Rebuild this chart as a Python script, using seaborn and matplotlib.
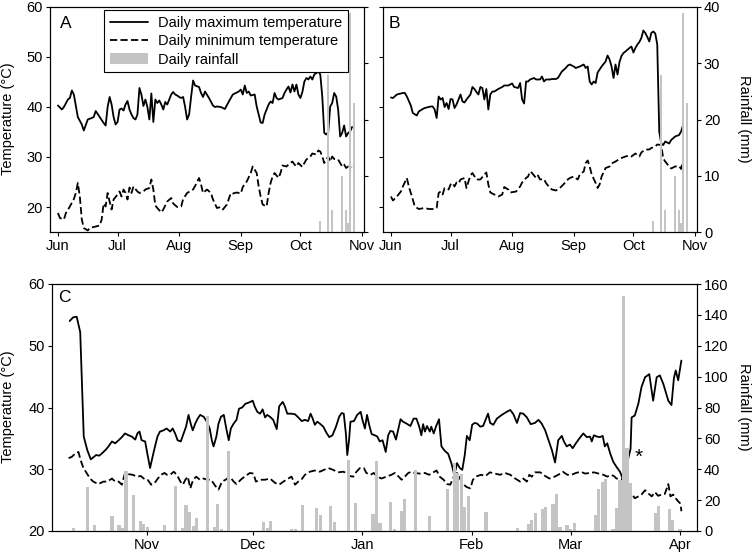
import pandas as pd
import matplotlib
matplotlib.use("Agg")
import matplotlib.pyplot as plt
import matplotlib.dates as mdates
from matplotlib.lines import Line2D
from matplotlib.patches import Patch
import seaborn as sns

# ── Data ──────────────────────────────────────────────────────────────────────
# Panels A and B: (days after 1 June, value)
a_tmax = [(0, 40.3), (2, 39.5), (3, 40.0), (5, 41.5), (6, 41.8), (7, 43.3), (8, 42.5), (10, 38.0),
          (12, 36.5), (13, 35.3), (15, 37.5), (17, 37.8), (18, 38.0), (19, 39.2), (21, 38.0),
          (23, 36.8), (24, 36.3), (25, 40.0), (26, 42.0), (27, 40.5), (28, 38.0), (29, 36.5),
          (30, 37.0), (31, 39.5), (32, 39.7), (33, 39.3), (34, 40.5), (35, 41.2), (36, 39.5),
          (37, 38.5), (38, 37.8), (39, 37.5), (40, 38.5), (41, 43.8), (42, 42.5), (43, 40.2),
          (44, 41.5), (45, 40.0), (46, 37.5), (47, 42.7), (48, 37.0), (49, 41.5), (50, 40.8),
          (51, 41.3), (52, 40.5), (53, 39.5), (54, 41.0), (55, 40.5), (56, 41.5), (57, 42.5),
          (58, 43.0), (59, 42.5), (60, 42.3), (61, 42.0), (62, 41.8), (63, 42.0), (64, 40.0),
          (65, 37.5), (66, 38.5), (67, 42.0), (68, 45.3), (69, 44.3), (71, 44.0), (72, 42.8),
          (73, 42.0), (74, 43.1), (76, 41.8), (78, 40.3), (79, 40.0), (80, 40.1), (82, 40.0),
          (84, 39.6), (86, 41.1), (88, 42.5), (91, 43.1), (92, 43.5), (93, 42.5), (94, 44.3),
          (95, 42.8), (96, 43.1), (97, 42.3), (99, 42.5), (100, 40.1), (102, 36.9), (103, 36.8),
          (104, 38.5), (106, 40.5), (107, 41.1), (108, 40.8), (109, 42.8), (110, 41.8),
          (111, 41.5), (113, 41.8), (114, 42.8), (115, 43.5), (116, 44.1), (117, 42.9),
          (118, 44.5), (119, 43.1), (120, 44.5), (121, 42.5), (122, 41.8), (123, 43.0),
          (124, 45.1), (125, 45.8), (126, 45.5), (127, 46.1), (128, 45.5), (129, 46.5),
          (130, 46.8), (131, 47.1), (132, 46.5), (133, 42.1), (134, 34.8), (135, 34.5),
          (136, 35.0), (137, 40.1), (138, 40.8), (139, 42.8), (140, 42.1), (141, 39.5),
          (142, 34.1), (143, 34.8), (144, 36.3), (145, 34.1), (146, 34.8), (147, 35.1), (148, 36.0)]

a_tmin = [(0, 18.8), (1, 17.8), (3, 17.5), (4, 18.8), (6, 20.1), (8, 21.6), (9, 22.8), (10, 24.8),
          (11, 22.1), (12, 17.5), (13, 15.8), (15, 15.3), (16, 15.8), (18, 16.0), (21, 16.3),
          (22, 17.5), (23, 20.7), (24, 20.1), (25, 22.8), (26, 21.1), (27, 19.5), (28, 21.5),
          (30, 22.5), (31, 23.1), (32, 22.1), (33, 23.5), (34, 22.8), (35, 21.5), (36, 23.9),
          (37, 22.8), (38, 24.1), (40, 23.1), (41, 22.8), (43, 23.1), (44, 23.5), (46, 23.8),
          (47, 25.5), (48, 23.5), (49, 20.3), (50, 19.8), (52, 18.9), (53, 19.5), (55, 21.1),
          (57, 21.8), (58, 20.7), (60, 20.0), (62, 20.1), (63, 21.6), (65, 22.8), (67, 23.3),
          (68, 23.5), (69, 24.2), (70, 25.0), (71, 25.8), (72, 24.5), (73, 22.8), (75, 23.5),
          (77, 22.8), (78, 21.5), (80, 19.8), (82, 20.0), (83, 19.5), (85, 20.5), (87, 22.8),
          (88, 22.7), (90, 22.9), (92, 22.7), (93, 24.0), (95, 25.1), (97, 26.8), (98, 28.1),
          (100, 26.8), (101, 24.1), (102, 22.1), (103, 20.5), (105, 20.1), (106, 22.8),
          (107, 24.8), (108, 26.1), (109, 26.8), (111, 25.8), (112, 26.8), (113, 28.3),
          (115, 28.1), (116, 28.5), (118, 29.1), (119, 28.5), (120, 28.1), (121, 28.8),
          (123, 28.0), (124, 28.8), (125, 29.5), (127, 30.1), (128, 30.7), (130, 30.5),
          (131, 31.3), (132, 31.1), (133, 30.1), (134, 28.8), (136, 30.1), (137, 29.1),
          (138, 30.1), (139, 29.6), (141, 29.5), (142, 28.8), (143, 28.1), (144, 28.5),
          (145, 27.8), (146, 28.1), (148, 28.0)]

b_tmax = [(0, 41.9), (1, 41.8), (3, 42.5), (6, 42.8), (7, 42.8), (8, 42.1), (10, 40.3), (11, 38.8),
          (13, 38.3), (14, 39.1), (16, 39.6), (17, 39.8), (19, 40.0), (20, 40.1), (21, 40.1),
          (22, 39.5), (23, 37.8), (24, 42.1), (25, 41.5), (26, 41.8), (27, 40.0), (28, 40.8),
          (29, 39.6), (30, 41.6), (31, 41.5), (32, 39.8), (33, 40.5), (34, 41.5), (35, 42.5),
          (36, 41.1), (37, 40.9), (38, 41.5), (39, 42.0), (40, 42.5), (41, 44.0), (42, 43.6),
          (43, 43.0), (44, 42.5), (45, 44.0), (46, 43.8), (47, 41.5), (48, 43.6), (49, 39.5),
          (50, 42.5), (51, 43.1), (52, 43.1), (54, 43.6), (56, 44.0), (57, 44.3), (59, 44.3),
          (61, 44.7), (62, 44.0), (64, 43.8), (65, 44.8), (66, 41.5), (67, 40.7), (68, 45.1),
          (69, 45.1), (70, 45.5), (72, 45.8), (73, 45.5), (75, 45.5), (76, 46.1), (77, 45.1),
          (78, 45.5), (80, 45.5), (81, 45.6), (83, 45.6), (84, 45.8), (86, 47.1), (88, 47.8),
          (89, 48.3), (90, 48.5), (92, 48.1), (93, 47.8), (95, 48.1), (97, 48.5), (98, 47.8),
          (99, 48.1), (100, 45.1), (101, 44.5), (102, 45.1), (103, 44.8), (104, 46.9),
          (106, 48.1), (108, 49.1), (109, 50.3), (110, 49.5), (111, 48.1), (112, 45.8),
          (113, 48.5), (114, 46.5), (115, 49.0), (116, 50.2), (117, 50.8), (118, 51.1),
          (120, 51.8), (121, 52.1), (122, 50.9), (123, 51.8), (124, 52.5), (125, 53.0),
          (126, 53.8), (127, 55.3), (128, 54.8), (129, 54.0), (130, 53.1), (131, 54.8),
          (132, 55.1), (133, 54.7), (134, 52.5), (135, 35.1), (136, 32.7), (137, 32.4),
          (138, 33.1), (140, 32.7), (141, 33.4), (143, 34.1), (145, 34.4), (146, 35.1), (147, 36.4)]

b_tmin = [(0, 22.1), (1, 21.3), (3, 22.1), (5, 23.1), (6, 24.1), (8, 25.8), (9, 24.1), (11, 21.5),
          (12, 20.1), (14, 19.6), (17, 19.8), (19, 19.6), (22, 19.6), (23, 19.8), (24, 22.8),
          (25, 23.1), (26, 22.5), (27, 23.8), (29, 23.5), (30, 24.5), (31, 24.8), (32, 24.1),
          (33, 24.9), (34, 24.7), (35, 25.5), (37, 25.8), (38, 23.8), (39, 25.1), (40, 26.3),
          (41, 26.8), (43, 25.5), (45, 25.5), (47, 26.5), (48, 26.9), (49, 24.5), (50, 22.9),
          (52, 22.5), (54, 22.1), (56, 22.5), (57, 24.0), (59, 23.5), (60, 22.9), (63, 23.1),
          (65, 24.1), (66, 24.9), (68, 25.8), (69, 26.1), (70, 27.1), (71, 26.8), (73, 25.8),
          (74, 26.3), (75, 25.5), (77, 25.6), (78, 24.8), (80, 23.8), (81, 23.5), (83, 23.3),
          (85, 23.8), (87, 24.6), (89, 25.5), (90, 25.8), (92, 26.1), (94, 25.5), (95, 26.5),
          (97, 27.1), (98, 28.8), (99, 29.3), (100, 28.1), (101, 26.5), (103, 24.8), (104, 23.8),
          (105, 24.5), (106, 26.1), (108, 27.8), (110, 28.1), (111, 28.7), (113, 29.1),
          (115, 29.6), (116, 29.8), (118, 30.1), (120, 30.3), (121, 30.1), (123, 30.7),
          (125, 30.1), (126, 30.9), (128, 31.5), (130, 31.5), (131, 31.8), (133, 32.1),
          (134, 32.5), (136, 32.4), (137, 29.7), (138, 29.1), (140, 28.1), (141, 27.7),
          (143, 28.1), (145, 28.2), (146, 27.6), (147, 29.3)]

ab_rain = [(132, 2.0), (136, 28.0), (138, 3.9), (143, 10.0), (145, 3.9), (146, 1.6),
           (147, 39.0), (149, 23.0)]

# Panel C: (days after 1 October, value)
c_tmax = [(9, 54.0), (10, 54.6), (11, 54.7), (12, 52.2), (13, 35.3), (14, 33.1), (15, 31.6),
          (16.5, 32.3), (17.4, 32.2), (18.4, 32.7), (19.3, 33.2), (20, 33.7), (21, 34.5),
          (21.9, 34.2), (22.9, 34.7), (23.8, 35.2), (24.7, 35.8), (25.7, 35.5), (26.6, 35.3),
          (27.6, 34.8), (28.2, 35.8), (28.8, 36.1), (29.4, 34.7), (30.4, 34.5), (31, 32.6),
          (31.8, 30.2), (32.5, 32.0), (33.2, 33.7), (33.9, 35.3), (34.6, 36.1), (35.6, 36.3),
          (36.5, 36.6), (37.5, 36.1), (38.2, 36.6), (38.9, 35.8), (39.6, 34.7), (40.5, 34.5),
          (41.5, 36.1), (42, 36.9), (42.7, 38.8), (43.4, 37.2), (43.9, 36.3), (44.6, 37.4),
          (45.3, 38.2), (46, 38.8), (47, 38.5), (47.9, 37.7), (48.7, 36.6), (49.3, 34.7),
          (49.8, 33.7), (50.6, 35.3), (51.2, 37.4), (51.9, 38.5), (52.7, 38.8), (53.4, 36.6),
          (54.1, 34.7), (54.7, 36.6), (55.5, 37.4), (56.3, 38.0), (57, 39.8), (57.9, 40.0),
          (58.8, 40.6), (59.8, 40.8), (60.9, 41.1), (61.5, 40.1), (62.2, 39.3), (63, 39.0),
          (63.7, 39.7), (64.4, 38.4), (65, 38.8), (65.8, 38.5), (66.7, 38.0), (67.7, 36.5),
          (68.4, 40.2), (69.4, 40.9), (70, 40.2), (70.7, 39.0), (71.9, 39.0), (72.9, 38.9),
          (73.8, 38.4), (74.8, 37.8), (75.7, 38.0), (76.6, 37.8), (77.3, 39.0), (77.9, 38.2),
          (78.5, 37.2), (79.2, 37.7), (79.9, 37.4), (80.9, 36.9), (81.8, 35.9), (82.6, 35.2),
          (83.5, 35.5), (84.5, 36.9), (85.4, 38.5), (86.1, 39.1), (86.7, 39.0), (87.3, 35.8),
          (87.7, 32.3), (88.2, 34.7), (88.6, 37.7), (89.6, 37.8), (90.5, 38.8), (91.5, 39.3),
          (92, 38.0), (92.7, 36.6), (93.3, 38.8), (93.9, 37.2), (94.6, 35.7), (95.5, 35.5),
          (96.2, 35.3), (96.9, 34.5), (97.7, 34.7), (98.6, 32.8), (99.3, 35.5), (99.9, 36.2),
          (100.7, 36.1), (101.5, 34.8), (102.1, 36.3), (102.8, 38.1), (103.5, 37.7),
          (104.5, 37.4), (105.6, 37.0), (106.5, 38.2), (107.3, 38.2), (108.1, 36.9),
          (108.7, 35.5), (109.2, 37.3), (109.7, 36.1), (110.3, 37.0), (111.1, 36.1),
          (111.5, 36.9), (112.2, 35.8), (112.9, 37.0), (113.7, 38.1), (114.4, 33.7),
          (115.3, 33.0), (116.3, 32.5), (117.2, 31.0), (117.9, 29.4), (118.4, 29.9),
          (118.8, 31.0), (119.6, 30.2), (120.3, 29.9), (121, 32.3), (121.6, 35.4),
          (122.4, 34.7), (123.1, 37.2), (123.8, 37.5), (124.5, 37.4), (125.4, 36.9),
          (126.2, 37.0), (126.9, 38.0), (127.6, 39.0), (128.2, 37.5), (129.1, 37.2),
          (130.1, 38.2), (131.5, 38.8), (132.9, 39.3), (133.9, 39.6), (134.8, 38.9),
          (135.8, 37.5), (136.7, 39.1), (137.6, 39.0), (138.6, 38.4), (139.7, 37.3),
          (140.9, 37.5), (141.9, 38.0), (142.8, 37.4), (143.8, 36.3), (144.7, 34.8),
          (145.7, 33.1), (146.6, 31.1), (147.5, 34.7), (148.5, 35.4), (149.1, 34.5),
          (149.9, 33.7), (150.8, 34.0), (151.6, 33.4), (152.5, 34.2), (153.5, 35.0),
          (154.6, 35.8), (155.6, 35.2), (156.5, 35.3), (157, 34.5), (157.6, 35.5),
          (158.4, 35.3), (159.3, 35.2), (160.1, 35.4), (160.7, 33.7), (161.4, 34.2),
          (162.2, 32.6), (163.1, 31.2), (164, 30.4), (165, 29.6), (165.9, 28.3), (168, 33.3),
          (168.3, 38.4), (169.2, 38.7), (170.2, 40.6), (171.1, 43.3), (172.1, 44.9),
          (173.3, 45.4), (174.4, 41.1), (175.4, 44.9), (176.3, 45.2), (177.3, 43.8),
          (178.7, 41.1), (179.6, 40.4), (180.3, 44.8), (180.8, 46.0), (181.5, 44.4), (182.4, 47.6)]

c_tmin = [(8.7, 31.8), (9.6, 32.0), (10.5, 32.5), (11.5, 32.8), (12.1, 31.5), (12.9, 30.2),
          (13.8, 29.4), (14.8, 28.5), (15.7, 28.0), (17.1, 27.6), (18.6, 28.0), (19.7, 28.0),
          (21, 28.5), (21.9, 28.0), (22.9, 28.0), (23.8, 27.5), (24.7, 29.4), (25.7, 29.2),
          (26.9, 29.1), (28.1, 28.8), (29.2, 28.9), (30.2, 28.4), (31.1, 28.3), (32.1, 27.5),
          (33, 27.7), (34, 28.5), (34.9, 29.1), (35.9, 29.4), (36.6, 29.1), (37.5, 29.1),
          (38.5, 29.6), (39.4, 29.1), (40.4, 28.0), (41.1, 27.5), (41.8, 28.3), (42.5, 28.8),
          (43.2, 26.9), (44, 28.3), (44.9, 28.8), (45.9, 28.3), (47, 28.5), (47.9, 28.3),
          (49.1, 28.3), (50.3, 27.3), (51.2, 26.7), (52.2, 28.0), (53.2, 28.3), (54.4, 28.8),
          (55.5, 28.0), (56.3, 27.6), (57.5, 28.3), (58.8, 28.9), (60.1, 29.4), (61.1, 29.3),
          (61.8, 28.0), (63, 28.3), (64.4, 28.3), (65.8, 28.5), (67.2, 27.8), (68.4, 27.5),
          (69.6, 28.0), (71, 28.5), (71.9, 28.8), (72.9, 27.5), (73.8, 28.0), (74.8, 28.4),
          (75.7, 29.1), (77.1, 29.6), (78.5, 29.8), (79.9, 29.6), (81.1, 29.9), (82.3, 30.2),
          (83.7, 29.9), (85.1, 29.5), (86.5, 29.6), (87.5, 29.4), (88.4, 28.9), (89.4, 28.8),
          (90.3, 29.6), (91.3, 30.2), (92.4, 30.2), (93.1, 29.4), (94.3, 29.1), (95.2, 29.4),
          (96.2, 28.8), (97.4, 28.5), (98.8, 28.8), (100.2, 29.1), (101.2, 29.4), (102.1, 28.9),
          (103.1, 28.3), (104, 28.8), (105, 29.4), (105.9, 29.6), (106.8, 29.4), (108.2, 29.3),
          (109.7, 29.4), (110.9, 29.1), (111.8, 29.4), (113, 29.8), (113.9, 28.8), (115, 28.3),
          (116, 27.6), (116.9, 27.5), (117.9, 28.8), (118.8, 29.4), (119.8, 28.3), (120.7, 27.5),
          (121.6, 27.1), (122.6, 26.9), (123.3, 28.3), (124.5, 28.9), (125.7, 29.1),
          (126.9, 28.9), (128.1, 29.5), (129.6, 29.3), (131, 29.1), (132.4, 29.4), (133.9, 29.1),
          (135.3, 28.5), (136.7, 28.0), (137.6, 28.5), (138.6, 28.0), (139.3, 29.1), (140, 28.8),
          (140.9, 29.5), (142.4, 29.5), (143.8, 28.9), (145, 28.5), (146.1, 28.7), (147.5, 29.1),
          (148.8, 29.6), (150.1, 29.1), (151.3, 29.1), (152.5, 29.4), (153.9, 29.6),
          (155.1, 29.3), (156.5, 29.4), (157.6, 29.5), (158.9, 29.3), (160.3, 29.1),
          (161.4, 28.8), (162.4, 29.1), (163.3, 28.9), (164, 28.5), (165.5, 28.4), (169.2, 25.3),
          (170.2, 25.6), (171.1, 25.9), (172.1, 26.6), (173, 26.1), (174, 25.6), (174.9, 26.3),
          (175.8, 25.7), (176.8, 25.9), (177.7, 26.0), (178.7, 27.6), (179.3, 25.6),
          (180.1, 25.9), (180.8, 25.3), (181.5, 24.8), (182.2, 24.4), (182.4, 23.2)]

c_rain = [(10, 1.9), (14, 28.4), (16, 3.9), (21, 9.9), (23, 3.9), (24, 1.9), (25, 38.9), (27, 23.0),
          (29, 6.6), (30, 4.5), (31, 2.6), (36, 3.9), (39, 29.0), (41, 2.2), (42, 16.6),
          (43, 12.5), (44, 3.0), (45, 8.6), (48, 74.8), (50, 2.6), (51, 17.2), (52, 1.3),
          (54, 51.8), (64, 6.0), (65, 1.7), (66, 6.5), (72, 1.1), (73, 1.1), (75, 16.8),
          (79, 14.6), (80, 10.3), (83, 16.3), (84, 6.0), (88, 45.8), (90, 18.3), (95, 11.0),
          (96, 45.4), (97, 4.9), (100, 18.9), (101, 1.1), (103, 13.1), (104, 21.0), (107, 39.8),
          (111, 9.7), (116, 26.9), (118, 44.3), (119, 37.6), (120, 36.8), (121, 15.7),
          (122, 22.6), (127, 12.5), (136, 1.7), (139, 4.5), (140, 7.1), (141, 11.4), (143, 14.0),
          (144, 15.3), (146, 17.4), (147, 23.7), (148, 2.4), (150, 3.9), (151, 1.1), (152, 4.9),
          (158, 10.3), (159, 27.5), (160, 31.8), (161, 34.0), (163, 1.1), (164, 14.8),
          (165, 32.9), (166, 152.0), (167, 53.5), (168, 31.0), (175, 11.4), (176, 16.1),
          (179, 14.0), (180, 7.1), (182, 1.1)]

# marker for the storm day in C (day after 1 Oct, temperature)
star_pos = (170.4, 31.0)

AB_START = pd.Timestamp("2009-06-01")
C_START = pd.Timestamp("2009-10-01")

# ── Style ─────────────────────────────────────────────────────────────────────
sns.set_style("ticks")
plt.rcParams["font.family"] = ["Liberation Sans", "DejaVu Sans"]
for key in ["text.color", "axes.labelcolor", "xtick.color", "ytick.color", "axes.edgecolor"]:
    plt.rcParams[key] = "black"
plt.rcParams["axes.linewidth"] = 0.8

FS = 10.5
RAIN_COLOR = "#c4c4c4"
LW = 1.3
DASH = (0, (4.0, 1.8))


def to_series(points, start):
    days, vals = zip(*points)
    dates = start + pd.to_timedelta(list(days), unit="D")
    return dates, list(vals)


def draw_panel(ax, tmax, tmin, rain, start, bar_w):
    x, y = to_series(tmax, start)
    sns.lineplot(x=x, y=y, ax=ax, color="black", linewidth=LW)
    x, y = to_series(tmin, start)
    sns.lineplot(x=x, y=y, ax=ax, color="black", linewidth=LW, linestyle=DASH)
    ax2 = ax.twinx()
    x, y = to_series(rain, start)
    ax2.bar(x, y, width=bar_w, color=RAIN_COLOR, linewidth=0)
    for a in (ax, ax2):
        a.tick_params(direction="out", length=3, width=0.8, labelsize=FS, pad=2)
        for s in a.spines.values():
            s.set_visible(True)
            s.set_linewidth(0.8)
            s.set_color("black")
    ax.set_xlabel("")
    ax.set_ylabel("")
    ax.xaxis.set_major_locator(mdates.MonthLocator())
    ax.xaxis.set_major_formatter(mdates.DateFormatter("%b"))
    return ax2


fig = plt.figure(figsize=(7.52, 5.59), dpi=100)
W, H = 752, 559
axA = fig.add_axes([50 / W, 1 - 232 / H, 314 / W, 225 / H])
axB = fig.add_axes([383 / W, 1 - 232 / H, 314 / W, 225 / H])
axC = fig.add_axes([52 / W, 1 - 531 / H, 645 / W, 247 / H])

axA2 = draw_panel(axA, a_tmax, a_tmin, ab_rain, AB_START, 0.8)
axB2 = draw_panel(axB, b_tmax, b_tmin, ab_rain, AB_START, 0.8)
axC2 = draw_panel(axC, c_tmax, c_tmin, c_rain, C_START, 0.9)

for ax, ax2 in ((axA, axA2), (axB, axB2)):
    ax.set_xlim(pd.Timestamp("2009-05-28"), pd.Timestamp("2009-11-02"))
    ax.set_ylim(15, 60)
    ax.set_yticks([20, 30, 40, 50, 60])
    ax2.set_ylim(0, 40)
    ax2.set_yticks([0, 10, 20, 30, 40])

axA2.tick_params(labelright=False)
axB.tick_params(labelleft=False)

axC.set_xlim(pd.Timestamp("2009-10-05"), pd.Timestamp("2010-04-05 20:00"))
axC.set_ylim(20, 60)
axC.set_yticks([20, 30, 40, 50, 60])
axC2.set_ylim(0, 160)
axC2.set_yticks(range(0, 161, 20))

# panel letters
axA.text(0.032, 0.907, "A", transform=axA.transAxes, fontsize=12.5, ha="left", va="baseline")
axB.text(0.019, 0.906, "B", transform=axB.transAxes, fontsize=12.5, ha="left", va="baseline")
axC.text(0.0093, 0.927, "C", transform=axC.transAxes, fontsize=12.5, ha="left", va="baseline")

# storm marker
axC.text(C_START + pd.Timedelta(days=star_pos[0]), star_pos[1], "*",
         fontsize=15, ha="center", va="baseline")

# axis titles
for yc in (119, 407):
    fig.text(8 / W, 1 - yc / H, "Temperature (°C)", rotation=90, ha="center", va="center", fontsize=FS)
    fig.text(744 / W, 1 - yc / H, "Rainfall (mm)", rotation=270, ha="center", va="center", fontsize=FS)

# legend
handles = [
    Line2D([0], [0], color="black", linewidth=LW),
    Line2D([0], [0], color="black", linewidth=LW, linestyle=DASH),
    Patch(facecolor=RAIN_COLOR, edgecolor="none"),
]
labels = ["Daily maximum temperature", "Daily minimum temperature", "Daily rainfall"]
leg = axA2.legend(handles, labels, loc="upper right", bbox_to_anchor=(0.949, 0.987),
                  fontsize=FS, frameon=True, fancybox=False, framealpha=1,
                  edgecolor="black", borderpad=0.4, labelspacing=0.3,
                  handlelength=2.6, handletextpad=0.7, borderaxespad=0)
leg.get_frame().set_linewidth(0.8)

fig.savefig("out.png", dpi=100)
